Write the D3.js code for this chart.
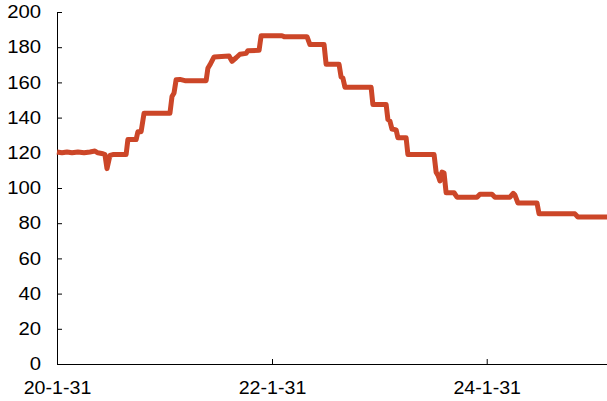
<!DOCTYPE html>
<meta charset="utf-8">
<head>
  <title>Step line</title>
</head>

<style>
body {
  margin: 0;
  background: #fff;
}
svg text {
  font-family: "Liberation Sans", Arial, sans-serif;
  font-size: 17.5px;
  fill: #000;
}
</style>

<body>
  <svg width="607" height="401"></svg>

  <script src="https://cdnjs.cloudflare.com/ajax/libs/d3/7.8.5/d3.min.js"></script>

  <script>
var dates = [
  '2020-01-31', '2020-02-17', '2020-03-05', '2020-03-22', '2020-04-11', '2020-05-02',
  '2020-05-22', '2020-06-08', '2020-06-18', '2020-07-05', '2020-07-12', '2020-07-19',
  '2020-07-29', '2020-08-08', '2020-09-22', '2020-09-28', '2020-10-26', '2020-11-01',
  '2020-11-12', '2020-11-22', '2021-02-18', '2021-02-25', '2021-03-04', '2021-03-11',
  '2021-03-24', '2021-04-10', '2021-06-21', '2021-06-27', '2021-07-04', '2021-07-18',
  '2021-09-07', '2021-09-17', '2021-10-01', '2021-10-14', '2021-11-04', '2021-11-10',
  '2021-12-18', '2021-12-25', '2022-03-06', '2022-03-13', '2022-05-30', '2022-06-09',
  '2022-07-27', '2022-08-03', '2022-09-16', '2022-09-23', '2022-09-29', '2022-10-06',
  '2023-01-03', '2023-01-09', '2023-02-23', '2023-03-01', '2023-03-08', '2023-03-15',
  '2023-03-29', '2023-04-04', '2023-05-02', '2023-05-08', '2023-08-05', '2023-08-12',
  '2023-08-19', '2023-08-25', '2023-09-01', '2023-09-08', '2023-09-15', '2023-10-12',
  '2023-10-22', '2023-12-29', '2024-01-08', '2024-02-18', '2024-02-28', '2024-04-19',
  '2024-04-30', '2024-05-06', '2024-05-16', '2024-07-20', '2024-07-27', '2024-11-26',
  '2024-12-06', '2025-03-15'
];

var values = [
  120.5, 120, 120.5, 120, 120.5, 120,
  120.5, 121, 120, 119.5, 119, 111,
  118.5, 119, 119, 127.5, 127.5, 132,
  132, 142.5, 142.5, 152, 154, 161.5,
  161.7, 161, 161, 168, 170, 174.5,
  175, 172, 174, 176, 176.5, 178,
  178.2, 186.5, 186.5, 186, 186, 181.5,
  181.5, 170.3, 170.3, 163, 162.5, 157.3,
  157.3, 147.5, 147.5, 139, 138, 133.5,
  133, 128.6, 128.6, 119, 119, 109,
  107, 104, 109, 108.5, 97.3, 97.3,
  94.8, 94.8, 96.5, 96.5, 94.8, 94.8,
  97, 96, 91.5, 91.5, 85.3, 85.3,
  83.5, 83.5
];

var yTicks = [0, 20, 40, 60, 80, 100, 120, 140, 160, 180, 200];
var xTickDates = ['2020-01-31', '2022-01-31', '2024-01-31'];
var xTickLabels = ['20-1-31', '22-1-31', '24-1-31'];
var xStart = '2020-01-31';
var xEnd = '2025-03-15';

var parse = d3.timeParse('%Y-%m-%d');

var svg = d3.select('svg');

var x = d3.scaleTime()
  .domain([parse(xStart), parse(xEnd)])
  .range([57, 607]);

var y = d3.scaleLinear()
  .domain([0, 200])
  .range([364, 12]);

var points = dates.map(function(d, i) {
  return {date: parse(d), value: values[i]};
});

// stretch labels a bit wider, like the original export
function widen(sel, k) {
  sel.each(function() {
    var w = this.getComputedTextLength();
    d3.select(this)
      .attr('textLength', w * k)
      .attr('lengthAdjust', 'spacingAndGlyphs');
  });
}

// y axis
var yAxis = d3.axisLeft(y)
  .tickValues(yTicks)
  .tickSizeInner(-5)
  .tickSizeOuter(0)
  .tickPadding(16)
  .tickFormat(d3.format('d'));

var gy = svg.append('g')
  .attr('transform', 'translate(57,0)')
  .call(yAxis);

// x axis
var xAxis = d3.axisBottom(x)
  .tickValues(xTickDates.map(parse))
  .tickSizeInner(-5)
  .tickSizeOuter(0)
  .tickPadding(17.5)
  .tickFormat(function(d, i) { return xTickLabels[i]; });

var gx = svg.append('g')
  .attr('transform', 'translate(0,364)')
  .call(xAxis);

[gx, gy].forEach(function(g) {
  g.attr('font-family', null).attr('font-size', null);
  g.selectAll('path, line').attr('stroke', '#000');
});

widen(gy.selectAll('text'), 1.16);
widen(gx.selectAll('text'), 1.12);

// Line
var line = d3.line()
  .x(function(d) { return x(d.date); })
  .y(function(d) { return y(d.value); });

svg.append('path')
  .datum(points)
  .attr('d', line)
  .attr('fill', 'none')
  .attr('stroke', '#CC4628')
  .attr('stroke-width', 5)
  .attr('stroke-linejoin', 'round');
  </script>
</body>
</html>
